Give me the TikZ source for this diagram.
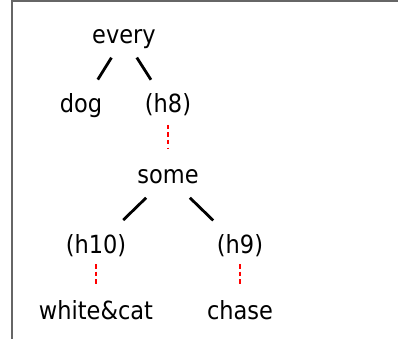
\documentclass[tikz,border=0pt]{standalone}
\usepackage{fontspec}
\setmainfont{DejaVu Sans Condensed}
\begin{document}
\begin{tikzpicture}[x=1pt,y=-1pt,
  lbl/.style={inner sep=0pt,text height=18pt,text depth=5pt,font=\fontsize{25}{29}\selectfont},
  edge/.style={line width=2.8pt,black},
  hole/.style={line width=2.2pt,red,dash pattern=on 4.5pt off 3pt}]
  \useasboundingbox (0,0) rectangle (398,339);
  % frame
  \draw[line width=2pt,black!60] (11.5,339) -- (11.5,1) -- (398,1);
  % nodes
  \node[lbl] (every) at (124,37.5) {every};
  \node[lbl] (dog) at (81,106.5) {dog};
  \node[lbl] (h8) at (168,106.5) {(h8)};
  \node[lbl] (some) at (168,176.5) {some};
  \node[lbl] (h10) at (96,246.5) {(h10)};
  \node[lbl] (h9) at (240,246.5) {(h9)};
  \node[lbl] (wc) at (96,312.5) {white\&cat};
  \node[lbl] (chase) at (240,312.5) {chase};
  % tree edges
  \draw[edge,shorten <=23.8pt,shorten >=31.7pt] (every.center) -- (dog.center);
  \draw[edge,shorten <=23.8pt,shorten >=31.7pt] (every.center) -- (h8.center);
  \draw[edge,shorten <=30.5pt,shorten >=38pt] (some.center) -- (h10.center);
  \draw[edge,shorten <=30.5pt,shorten >=37.4pt] (some.center) -- (h9.center);
  % hole links
  \draw[hole,shorten <=18.5pt,shorten >=28.5pt] (h8.center) -- (some.center);
  \draw[hole,shorten <=17.5pt,shorten >=26.5pt] (h10.center) -- (wc.center);
  \draw[hole,shorten <=17.5pt,shorten >=26.5pt] (h9.center) -- (chase.center);
\end{tikzpicture}
\end{document}
